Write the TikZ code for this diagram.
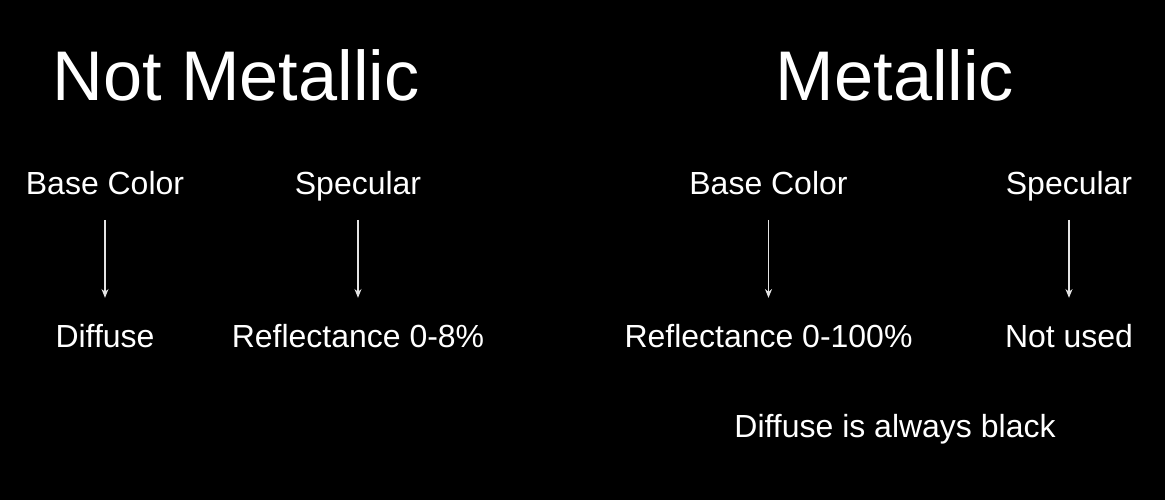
\documentclass[tikz,border=0pt]{standalone}
\usepackage{fontspec}
\setmainfont{Liberation Sans}
\usepackage{tikz}
\usetikzlibrary{arrows.meta,positioning,calc}

\tikzset{
  title/.style={text=white, font=\fontsize{40}{46}\selectfont, inner sep=0pt, anchor=base},
  lbl/.style={text=white, font=\fontsize{18.2}{21}\selectfont, inner sep=0pt, anchor=base, text height=13pt, text depth=0pt},
  arr/.style={draw=white!90!black, line width=0.6pt, -{Stealth[length=5pt,width=4pt]}, shorten <=0.5cm, shorten >=0.54cm}
}

\begin{document}
\begin{tikzpicture}[scale=1]

    \fill [black] (0,0) rectangle (23.3,-10);
    \useasboundingbox (0,0) rectangle (23.3,-10);

    \node [title] (notmet) at (4.72,-2.02) {Not Metallic};
    \node [title] (met) at (17.9,-2.02) {Metallic};

    \node [lbl] (base1) at (2.1,-3.9) {Base Color};
    \node [lbl] (spec1) at (7.16,-3.9) {Specular};
    \node [lbl] (diff1) at (2.1,-6.96) {Diffuse};
    \node [lbl] (refl1) at (7.16,-6.96) {Reflectance 0-8\%};

    \node [lbl] (base2) at (15.37,-3.9) {Base Color};
    \node [lbl] (spec2) at (21.38,-3.9) {Specular};
    \node [lbl] (refl2) at (15.37,-6.96) {Reflectance 0-100\%};
    \node [lbl] (unused) at (21.38,-6.96) {Not used};
    \node [lbl] (black) at (17.9,-8.76) {Diffuse is always black};

    \draw [arr] (base1.base) -- (diff1.north);
    \draw [arr] (spec1.base) -- (refl1.north);
    \draw [arr] (base2.base) -- (refl2.north);
    \draw [arr] (spec2.base) -- (unused.north);
  \end{tikzpicture}
\end{document}
